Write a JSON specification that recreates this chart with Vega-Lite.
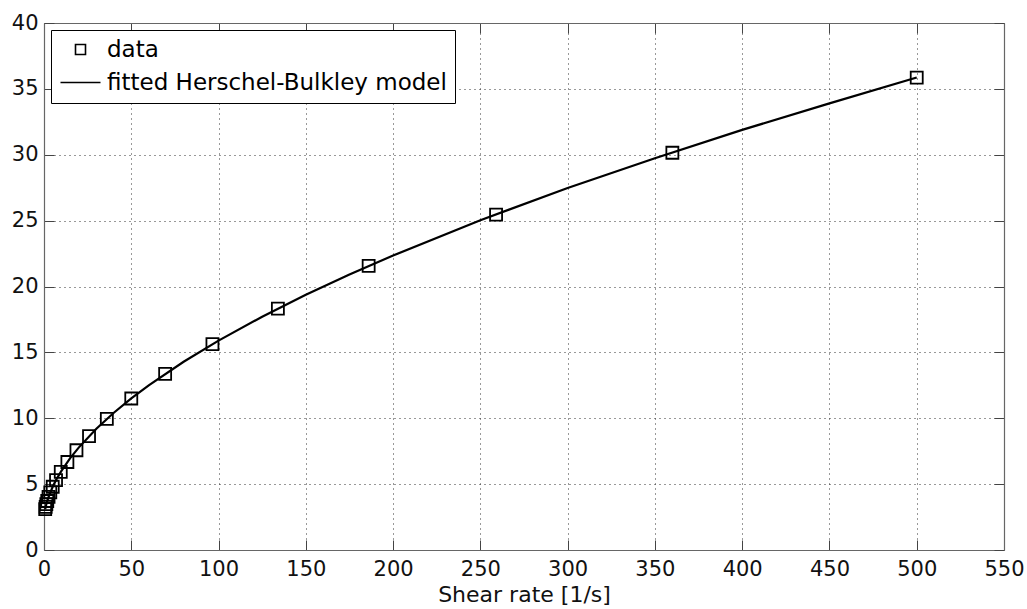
{
  "$schema": "https://vega.github.io/schema/vega-lite/v6.json",
  "autosize": {"type": "none"},
  "width": 960,
  "height": 527,
  "padding": {"left": 44, "top": 23, "right": 23, "bottom": 59},
  "background": "white",
  "config": {
    "view": {"stroke": null},
    "font": "DejaVu Sans",
    "axis": {
      "labelFont": "DejaVu Sans",
      "labelFontSize": 21,
      "labelColor": "#111",
      "labelFlush": false,
      "titleFont": "DejaVu Sans",
      "titleFontSize": 22,
      "titleFontWeight": "normal",
      "titleColor": "#111",
      "domainColor": "#666",
      "domainWidth": 1.2,
      "tickColor": "#444",
      "tickSize": -10,
      "tickWidth": 1,
      "gridColor": "#333",
      "gridDash": [1, 4],
      "gridOpacity": 1,
      "gridWidth": 1
    },
    "legend": {
      "orient": "top-left",
      "offset": 7,
      "strokeColor": "#000",
      "fillColor": "white",
      "padding": 8,
      "symbolOffset": 10,
      "labelOffset": 15,
      "rowPadding": 9,
      "labelFont": "DejaVu Sans",
      "labelFontSize": 23,
      "labelLimit": 0,
      "labelColor": "#000",
      "symbolSize": 100,
      "symbolStrokeColor": "#000",
      "symbolStrokeWidth": 1.6,
      "symbolFillColor": "transparent"
    }
  },
  "datasets": {
    "fit": [
      {"rate": 0.69, "stress": 3.10},
      {"rate": 1, "stress": 3.29},
      {"rate": 1.5, "stress": 3.56},
      {"rate": 2, "stress": 3.78},
      {"rate": 3, "stress": 4.17},
      {"rate": 5, "stress": 4.80},
      {"rate": 7, "stress": 5.34},
      {"rate": 10, "stress": 6.01},
      {"rate": 15, "stress": 6.97},
      {"rate": 20, "stress": 7.79},
      {"rate": 30, "stress": 9.21},
      {"rate": 40, "stress": 10.42},
      {"rate": 50, "stress": 11.50},
      {"rate": 60, "stress": 12.50},
      {"rate": 80, "stress": 14.29},
      {"rate": 100, "stress": 15.89},
      {"rate": 125, "stress": 17.71},
      {"rate": 150, "stress": 19.37},
      {"rate": 175, "stress": 20.91},
      {"rate": 200, "stress": 22.35},
      {"rate": 250, "stress": 25.03},
      {"rate": 300, "stress": 27.48},
      {"rate": 350, "stress": 29.74},
      {"rate": 400, "stress": 31.89},
      {"rate": 450, "stress": 33.90},
      {"rate": 500, "stress": 35.86}
    ],
    "data": [
      {"rate": 0.69, "stress": 3.10, "series": "data"},
      {"rate": 0.96, "stress": 3.27, "series": "data"},
      {"rate": 1.34, "stress": 3.48, "series": "data"},
      {"rate": 1.86, "stress": 3.72, "series": "data"},
      {"rate": 2.6, "stress": 4.03, "series": "data"},
      {"rate": 3.6, "stress": 4.38, "series": "data"},
      {"rate": 5.0, "stress": 4.80, "series": "data"},
      {"rate": 6.9, "stress": 5.31, "series": "data"},
      {"rate": 9.6, "stress": 5.93, "series": "data"},
      {"rate": 13.4, "stress": 6.68, "series": "data"},
      {"rate": 18.6, "stress": 7.57, "series": "data"},
      {"rate": 25.8, "stress": 8.64, "series": "data"},
      {"rate": 36, "stress": 9.95, "series": "data"},
      {"rate": 50, "stress": 11.50, "series": "data"},
      {"rate": 69.4, "stress": 13.37, "series": "data"},
      {"rate": 96.5, "stress": 15.62, "series": "data"},
      {"rate": 134, "stress": 18.32, "series": "data"},
      {"rate": 186, "stress": 21.56, "series": "data"},
      {"rate": 259, "stress": 25.45, "series": "data"},
      {"rate": 360, "stress": 30.15, "series": "data"},
      {"rate": 500, "stress": 35.86, "series": "data"}
    ]
  },
  "layer": [
    {
      "data": {"name": "fit"},
      "mark": {"type": "line", "color": "#000", "strokeWidth": 2.2},
      "encoding": {
        "x": {
          "field": "rate", "type": "quantitative",
          "scale": {"domain": [0, 550], "nice": false, "zero": false},
          "axis": {
            "orient": "bottom",
            "values": [0, 50, 100, 150, 200, 250, 300, 350, 400, 450, 500, 550],
            "title": "Shear rate [1/s]",
            "labelPadding": 18,
            "titlePadding": 5,
            "grid": true
          }
        },
        "y": {
          "field": "stress", "type": "quantitative",
          "scale": {"domain": [0, 40], "nice": false, "zero": false},
          "axis": {
            "orient": "left",
            "values": [0, 5, 10, 15, 20, 25, 30, 35, 40],
            "title": null,
            "labelPadding": 16,
            "grid": true
          }
        }
      }
    },
    {
      "data": {"name": "data"},
      "mark": {"type": "point", "filled": false, "strokeWidth": 1.8, "color": "#000", "opacity": 1},
      "encoding": {
        "x": {
          "field": "rate", "type": "quantitative",
          "axis": {
            "orient": "top",
            "values": [0, 50, 100, 150, 200, 250, 300, 350, 400, 450, 500, 550],
            "labels": false,
            "title": null,
            "grid": false
          }
        },
        "y": {
          "field": "stress", "type": "quantitative",
          "axis": {
            "orient": "right",
            "values": [0, 5, 10, 15, 20, 25, 30, 35, 40],
            "labels": false,
            "title": null,
            "grid": false
          }
        },
        "shape": {
          "field": "series", "type": "nominal",
          "scale": {
            "domain": ["data", "fitted Herschel-Bulkley model"],
            "range": ["square", "M-4,0L4,0"]
          },
          "legend": {"title": null}
        },
        "size": {"value": 144}
      }
    }
  ],
  "resolve": {"axis": {"x": "independent", "y": "independent"}}
}
